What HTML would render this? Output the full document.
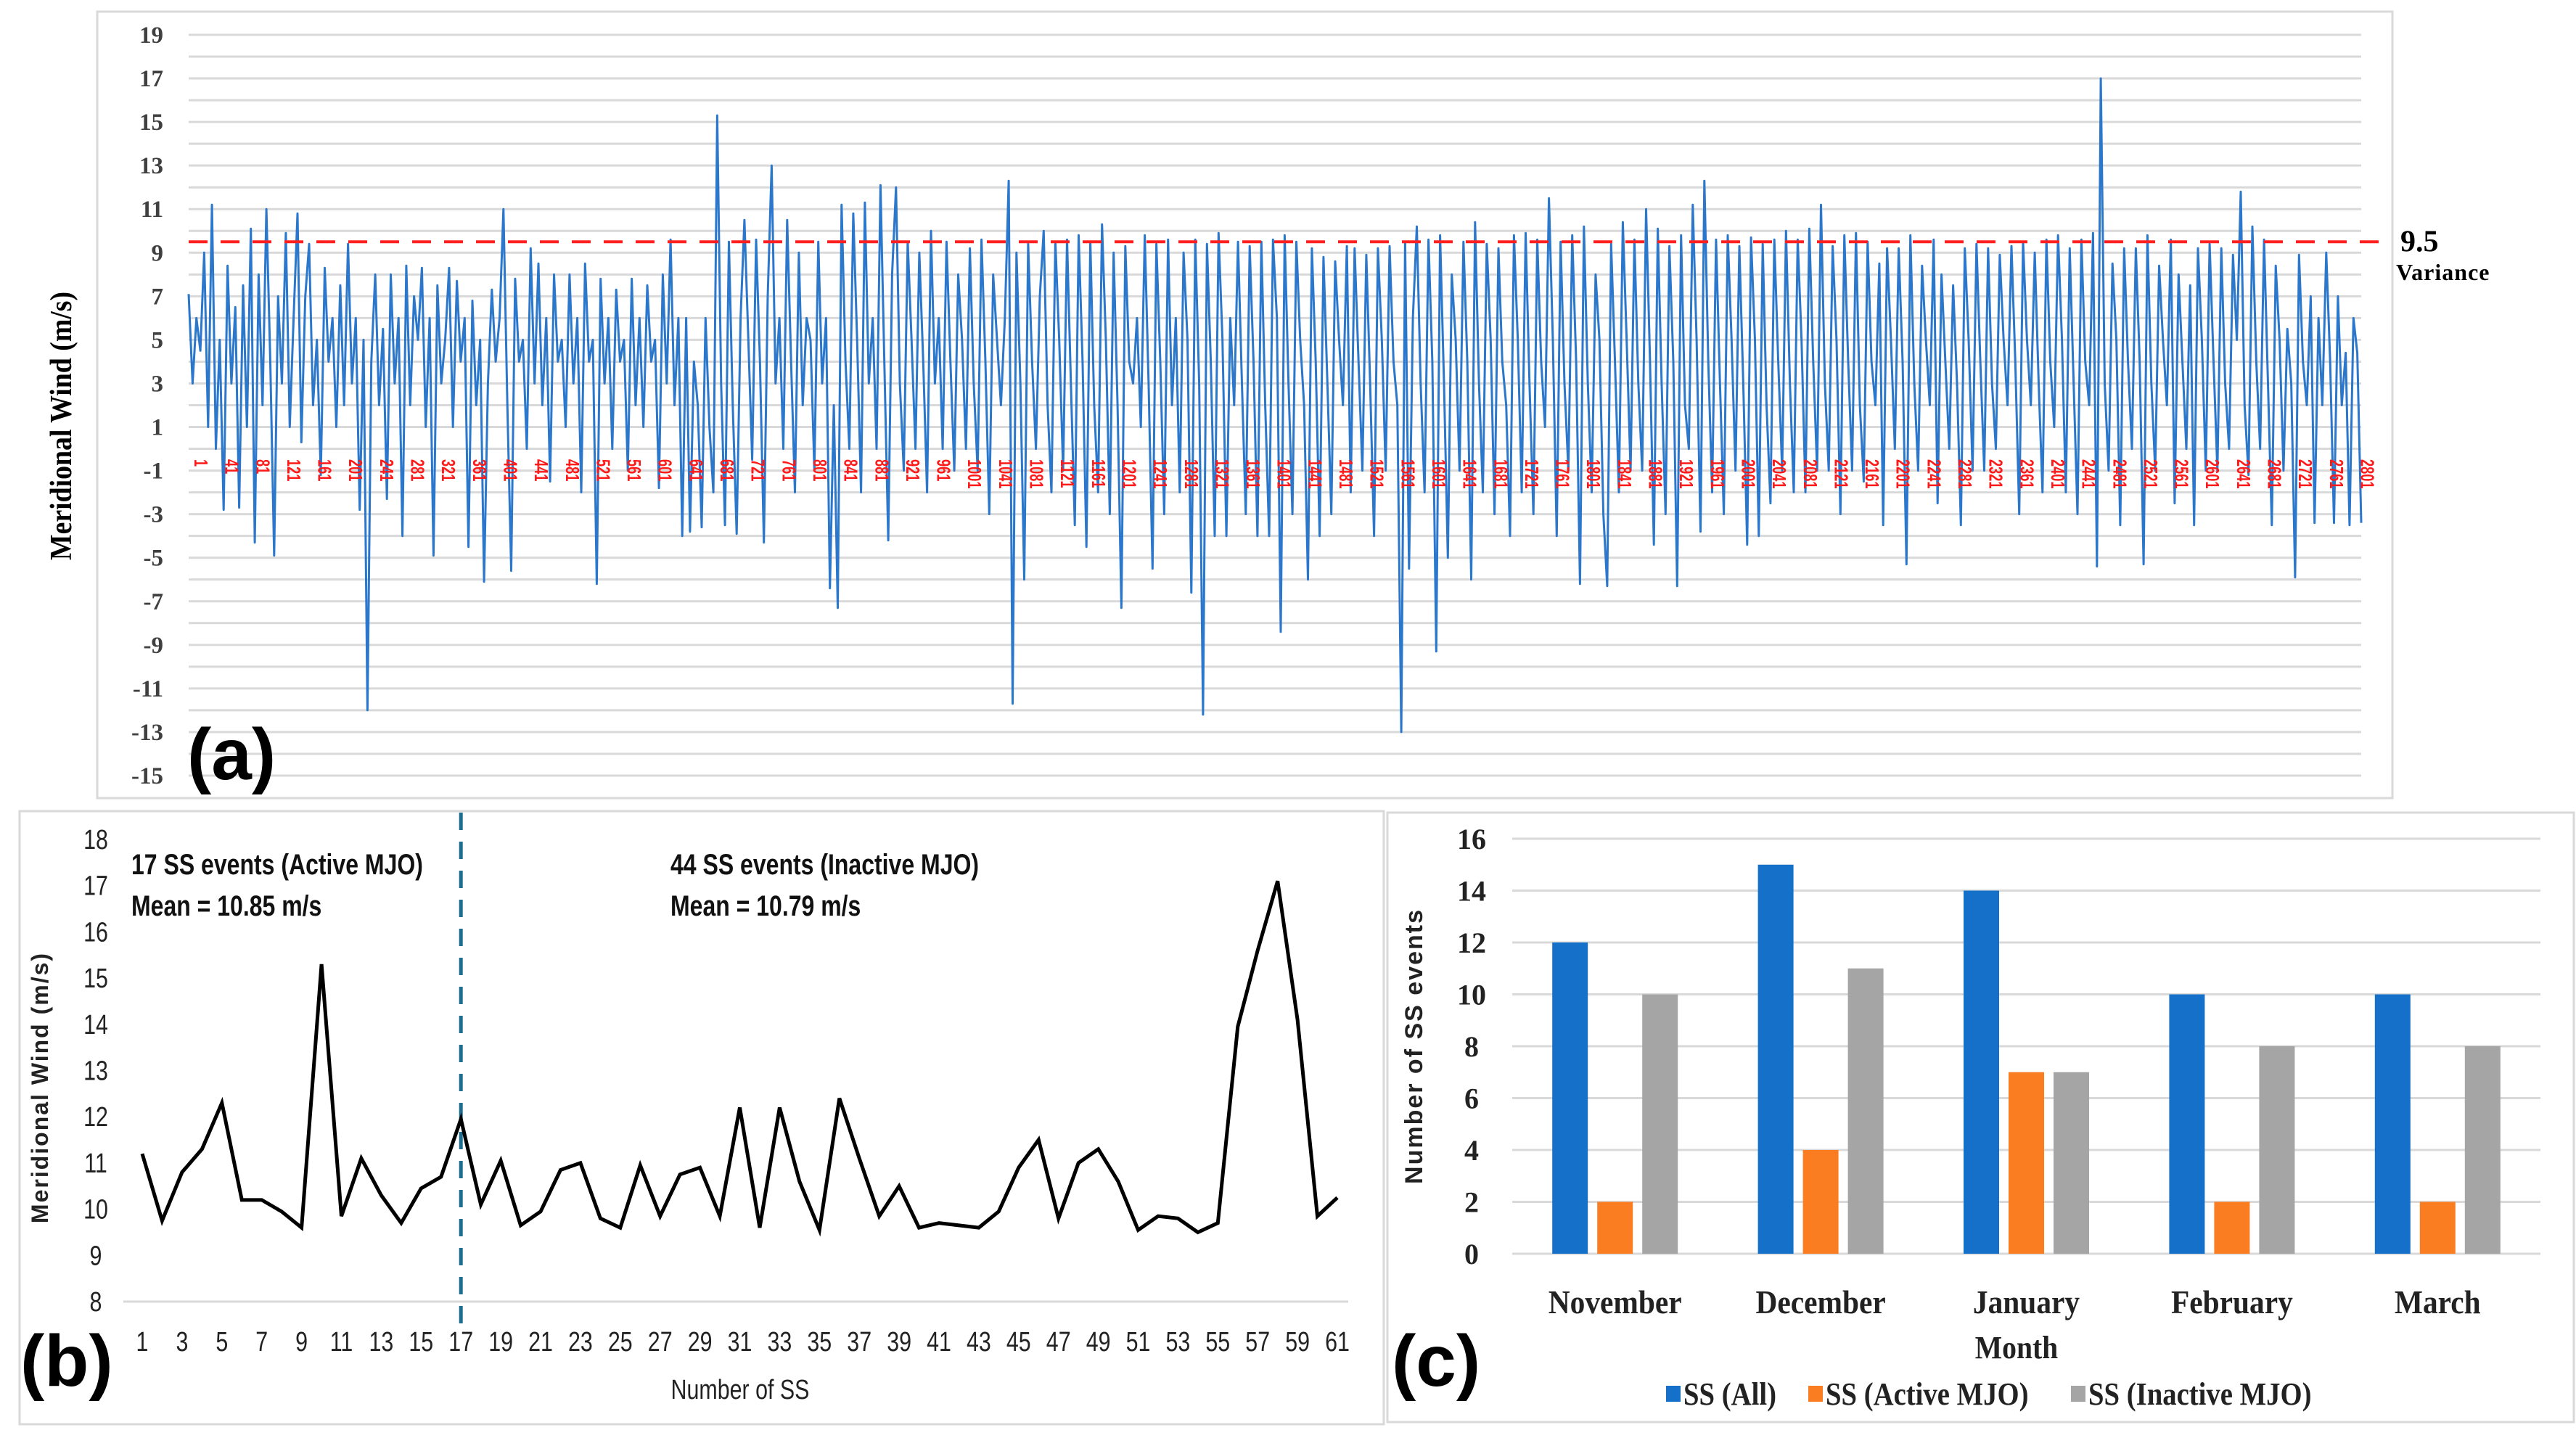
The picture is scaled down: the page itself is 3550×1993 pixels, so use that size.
<!DOCTYPE html>
<html><head><meta charset="utf-8"><style>
html,body{margin:0;padding:0;background:#fff;}
svg{display:block;}
.ser{font-family:"Liberation Serif",serif;font-weight:bold;}
.nar{font-family:"Liberation Sans Narrow","Liberation Sans",sans-serif;}
.sans{font-family:"Liberation Sans",sans-serif;}
</style></head><body>
<svg id="fig" width="3550" height="1993" viewBox="0 0 3550 1993" xmlns="http://www.w3.org/2000/svg">
<rect x="0" y="0" width="3550" height="1993" fill="#fff"/>
<rect x="134" y="16" width="3163" height="1084" fill="none" stroke="#d9d9d9" stroke-width="3"/>
<rect x="27" y="1118" width="1880" height="845" fill="none" stroke="#d9d9d9" stroke-width="3"/>
<rect x="1912" y="1120" width="1635" height="840" fill="none" stroke="#d9d9d9" stroke-width="3"/>
<g id="pa"></g>
<g id="pb"></g>
<g id="pc"></g>
</svg>
<script>
// ---------- Panel (a) data ----------
const aSeries = [
7.1,3,6,4.5,9,1,11.2,0,5,-2.8,
8.4,3,6.5,-2.7,7.5,1,10.1,-4.3,8,2,
11,4,-4.9,7,3,9.9,1,6,10.8,0.3,
7,9.4,2,5,-1.2,8.3,4,6,1,7.5,
2,9.4,3,6,-2.8,5,-12,4,8,2,
5.5,-2.3,8,3,6,-4,8.4,2,7,5,
8.3,1,6,-4.9,7.5,3,5,8.3,1,7.7,
4,6,-4.5,6.8,2,5,-6.1,3,7.3,4,
6,11,2,-5.6,7.8,4,5,0,9.2,3,
8.5,2,6,-1.5,8,4,5,1,8,3,
6,-2,8.5,4,5,-6.2,7.8,3,6,0,
7.3,4,5,-1,7.8,2,6,1,7.5,4,
5,-1.8,8,3,9.6,2,6,-4,6,-3.8,
4,2,-3.6,6,1,-2,15.3,3,-3.5,9.5,
2,-3.9,6,10.5,5,-0.5,9.6,4,-4.3,7,
13,3,6,0,10.5,4,-2,9,2,6,
5,-1,9.5,3,6,-6.4,2,-7.3,11.2,4,
0,10.8,5,-2,11.3,3,6,0,12.1,4,
-4.2,8,12,3,-1,9.5,5,0,9,4,
-2,10,3,6,0,9.5,4,-1,8,5,
0,9.2,3,-1,9.6,4,-3,8,5,2,
6,12.3,-11.7,9,3,-6,9.4,4,0,7,
10,2,-2,9.5,5,-1,9.6,3,-3.5,9.8,
4,-4.5,9.5,2,-2,10.3,5,-3,9,2,
-7.3,9.3,4,3,6,1,9.8,3,-5.5,9.4,
4,-3,9.6,2,6,-2,9,5,-6.6,9.6,
3,-12.2,9.4,4,-4,9.9,5,-4,6,2,
9.5,3,-3,9.3,4,-4,9.5,2,-4,9.6,
6,-8.4,9.8,3,-3,9.5,5,2,-6,9.2,
4,-4,8.8,3,-3,8.6,5,2,9.3,-2,
9.2,4,-1,8.9,3,-4,9.2,5,-1,9.3,
4,2,-13,9.5,-5.5,6,10.2,3,-2,9.6,
4,-9.3,9.8,3,-5,8,5,-1,9.5,4,
-6,10.4,3,-2,9.4,5,-3,9.2,4,2,
-4,9.8,5,-2,9.9,3,-3,9.6,4,1,
11.5,5,-4,9.5,3,-1,9.8,4,-6.2,10.2,
3,-2,8,5,-3,-6.3,9.4,4,-2,10.4,
5,-1,9.6,3,-1,11,4,-4.4,10.1,3,
-3,9.3,4,-6.3,9.8,2,0,11.2,5,-3.8,
12.3,4,-2,9.6,3,-3,9.8,5,-1,9.3,
3,-4.4,9.7,5,-4,9.4,2,-2.5,9.6,4,
-1,10,3,-2,9.6,5,-2,10.1,4,-1,
11.2,3,-1,9.3,5,-3,9.8,4,-1,9.9,
2,-1.5,9.5,4,2,8.5,-3.5,9.2,5,0,
9.2,4,-5.3,9.8,3,-1,8.4,5,2,9.6,
-2.5,8,4,0,7.5,3,-3.5,9.2,5,-1,
9.4,4,-1,9.2,3,0,8.9,5,2,9.3,
4,-3,9.5,5,2,9,3,-2,9.6,4,
1,9.8,5,-2,9.2,3,-3,9.6,4,2,
9.9,-5.4,17,3,-1,8.5,5,-3.5,9.2,4,
0,9.2,4,-5.3,9.8,3,-1,8.4,5,2,
9.6,-2.5,8,4,0,7.5,-3.5,9.2,5,-1,
9.4,4,-1,9.2,3,0,8.9,5,11.8,2,
-1.2,10.2,4,0,9.6,3,-3.5,8.4,5,-1,
5.5,3,-5.9,8.9,4,2,7,-3.4,6,2,
9,4,-3.4,7,2,4.4,-3.5,6,4.4,-3.4];
const aTickLabels = [];
for (let v = 1; v <= 2801; v += 40) aTickLabels.push(v);
const aYTicks = [19,17,15,13,11,9,7,5,3,1,-1,-3,-5,-7,-9,-11,-13,-15];
const aVariance = [9.5];
const aLastIndex = [2808];

// ---------- Panel (b) data ----------
const bValues = [11.2,9.75,10.8,11.3,12.3,10.2,10.2,9.95,9.6,15.3,9.85,11.1,10.3,9.7,10.45,10.7,11.95,10.1,11.05,9.65,9.95,10.85,11.0,9.8,9.6,10.95,9.85,10.75,10.9,9.85,12.2,9.6,12.2,10.6,9.55,12.4,11.1,9.85,10.5,9.6,9.7,9.65,9.6,9.95,10.9,11.5,9.8,11.0,11.3,10.6,9.55,9.85,9.8,9.5,9.7,13.95,15.6,17.1,14.1,9.85,10.25];
const bYTicks = [8,9,10,11,12,13,14,15,16,17,18];
const bSplit = [17];

// ---------- Panel (c) data ----------
const cMonths = ["November","December","January","February","March"];
const cAll = [12,15,14,10,10];
const cActive = [2,4,7,2,2];
const cInactive = [10,11,7,8,8];
const cYTicks = [0,2,4,6,8,10,12,14,16];
const cSeriesNames = ["SS (All)","SS (Active MJO)","SS (Inactive MJO)"];

const NS = "http://www.w3.org/2000/svg";
function mk(parent, tag, attrs, text) {
  const e = document.createElementNS(NS, tag);
  for (const k in attrs) e.setAttribute(k, attrs[k]);
  if (text !== undefined) e.textContent = text;
  parent.appendChild(e);
  return e;
}
function tr(x, y, sx) { return 'translate(' + x + ',' + y + ') scale(' + sx + ',1)'; }

// ===== Panel (a) =====
(function(){
  const g = document.getElementById('pa');
  const x0 = 260, x1 = 3254, yTop = 48, yBot = 1069, vTop = 19, vBot = -15;
  const ys = v => yTop + (vTop - v) * (yBot - yTop) / (vTop - vBot);
  const xi = i => x0 + i * (x1 - x0) / (aSeries.length - 1);
  const xIdx = n => x0 + (n - 1) * (x1 - x0) / aLastIndex[0];
  for (let v = vBot; v <= vTop; v++) {
    const l = mk(g, 'line', {x1: x0, x2: x1, y1: ys(v), y2: ys(v), stroke: '#d9d9d9', 'stroke-width': 3});
    
    
  }
  aYTicks.forEach(v => {
    const t = mk(g, 'text', {x: 225, y: ys(v) + 11, 'text-anchor': 'end', 'font-size': 33, class: 'ser', fill: '#404040'}, String(v));
    
    
  });
  const yt = mk(g, 'text', {x: 0, y: 0, transform: 'translate(98,587) rotate(-90) scale(0.9,1)', 'text-anchor': 'middle', 'font-size': 42, class: 'ser', fill: '#000'}, 'Meridional Wind (m/s)');
  
  
  let d = '';
  aSeries.forEach((v, i) => { d += (i ? 'L' : 'M') + xi(i).toFixed(1) + ',' + ys(v).toFixed(1); });
  const p = mk(g, 'path', {d: d, fill: 'none', stroke: '#2a77cc', 'stroke-width': 3, 'stroke-linejoin': 'round'});
  
  
  aTickLabels.forEach(n => {
    const x = xIdx(n);
    const t = mk(g, 'text', {x: 0, y: 0, transform: 'translate(' + (x + 8) + ',633) rotate(90) scale(0.7,1)', 'font-size': 26, class: 'nar', 'font-weight': 'bold', fill: '#ff1a1a'}, String(n));
    
    
  });
  const vl = mk(g, 'line', {x1: x0, x2: 3290, y1: ys(aVariance[0]), y2: ys(aVariance[0]), stroke: '#ff2020', 'stroke-width': 4, 'stroke-dasharray': '26,18'});
  
  
  const vt = mk(g, 'text', {x: 3308, y: ys(aVariance[0]) + 13, 'font-size': 42, class: 'ser', fill: '#000'}, String(aVariance[0]));
  
  
  const vt2 = mk(g, 'text', {x: 3302, y: 386, 'font-size': 32, class: 'ser', fill: '#000', 'letter-spacing': 1}, 'Variance');
  
  
  const pl = mk(g, 'text', {x: 258, y: 1074, 'font-size': 100, class: 'sans', 'font-weight': 'bold', fill: '#000'}, '(a)');
  
  
})();

// ===== Panel (b) =====
(function(){
  const g = document.getElementById('pb');
  const x0 = 196, x1 = 1843, yTop = 1157, yBot = 1794, vTop = 18, vBot = 8;
  const ys = v => yBot - (v - vBot) * (yBot - yTop) / (vTop - vBot);
  const xs = n => x0 + (n - 1) * (x1 - x0) / (bValues.length - 1);
  const base = mk(g, 'line', {x1: 170, x2: 1858, y1: yBot, y2: yBot, stroke: '#d9d9d9', 'stroke-width': 3});
  
  
  bYTicks.forEach(v => {
    const t = mk(g, 'text', {x: 0, y: 0, transform: tr(132, ys(v) + 13, 0.8), 'text-anchor': 'middle', 'font-size': 38, class: 'nar', fill: '#222'}, String(v));
    
    
  });
  for (let n = 1; n <= bValues.length; n += 2) {
    const t = mk(g, 'text', {x: 0, y: 0, transform: tr(xs(n), 1862, 0.8), 'text-anchor': 'middle', 'font-size': 38, class: 'nar', fill: '#222'}, String(n));
    
    
  }
  const sl = mk(g, 'line', {x1: xs(bSplit[0]), x2: xs(bSplit[0]), y1: 1120, y2: 1830, stroke: '#1d6d8f', 'stroke-width': 5, 'stroke-dasharray': '24,16'});
  
  
  let d = '';
  bValues.forEach((v, i) => { d += (i ? 'L' : 'M') + xs(i + 1).toFixed(1) + ',' + ys(v).toFixed(1); });
  const p = mk(g, 'path', {d: d, fill: 'none', stroke: '#000', 'stroke-width': 5, 'stroke-linejoin': 'miter'});
  
  
  const ann = [[181,1205,'17 SS events (Active MJO)'],[181,1262,'Mean = 10.85 m/s'],[924,1205,'44 SS events (Inactive MJO)'],[924,1262,'Mean = 10.79 m/s']];
  ann.forEach(a => {
    const t = mk(g, 'text', {x: 0, y: 0, transform: tr(a[0], a[1], 0.8), 'font-size': 40, class: 'nar', fill: '#111', 'font-weight': '600'}, a[2]);
    
    
  });
  const yt = mk(g, 'text', {x: 0, y: 0, transform: 'translate(66,1499) rotate(-90)', 'text-anchor': 'middle', 'font-size': 32, class: 'sans', 'font-weight': 'bold', 'letter-spacing': 2, fill: '#222'}, 'Meridional Wind (m/s)');
  
  
  const xt = mk(g, 'text', {x: 0, y: 0, transform: tr(1020, 1928, 0.8), 'text-anchor': 'middle', 'font-size': 38, class: 'nar', fill: '#222'}, 'Number of SS');
  
  
  const pl = mk(g, 'text', {x: 28, y: 1910, 'font-size': 100, class: 'sans', 'font-weight': 'bold', fill: '#000'}, '(b)');
  
  
})();

// ===== Panel (c) =====
(function(){
  const g = document.getElementById('pc');
  const x0 = 2084, x1 = 3501, yTop = 1156, yBot = 1728, vTop = 16;
  const ys = v => yBot - v * (yBot - yTop) / vTop;
  const cw = (x1 - x0) / cMonths.length;
  const bw = 49, gap = 13;
  cYTicks.forEach(v => {
    const l = mk(g, 'line', {x1: x0, x2: x1, y1: ys(v), y2: ys(v), stroke: '#d9d9d9', 'stroke-width': 3});
    
    
    const t = mk(g, 'text', {x: 2028, y: ys(v) + 14, 'text-anchor': 'middle', 'font-size': 40, class: 'ser', 'font-weight': 'normal', fill: '#222'}, String(v));
    
    
  });
  const series = [cAll, cActive, cInactive];
  const colors = ['#1570c9', '#fa7d22', '#a5a5a5'];
  cMonths.forEach((m, i) => {
    const cx = x0 + cw * (i + 0.5);
    series.forEach((s, k) => {
      const bx = cx + (k - 1) * (bw + gap) - bw / 2;
      const r = mk(g, 'rect', {x: bx, y: ys(s[i]), width: bw, height: yBot - ys(s[i]), fill: colors[k]});
      
      
    });
    const t = mk(g, 'text', {x: 0, y: 0, transform: tr(cx, 1810, 0.9), 'text-anchor': 'middle', 'font-size': 46, class: 'ser', fill: '#222'}, m);
    
    
  });
  const yt = mk(g, 'text', {x: 0, y: 0, transform: 'translate(1960,1442) rotate(-90)', 'text-anchor': 'middle', 'font-size': 34, class: 'sans', 'font-weight': 'bold', 'letter-spacing': 2, fill: '#222'}, 'Number of SS events');
  
  
  const xt = mk(g, 'text', {x: 0, y: 0, transform: tr(2779, 1872, 0.9), 'text-anchor': 'middle', 'font-size': 44, class: 'ser', 'font-weight': 'normal', fill: '#222'}, 'Month');
  
  
  let lx = 2296;
  const legW = [196, 362, 380];
  cSeriesNames.forEach((nm, k) => {
    const sw = mk(g, 'rect', {x: lx, y: 1910, width: 20, height: 22, fill: colors[k]});
    
    
    const t = mk(g, 'text', {x: 0, y: 0, transform: tr(lx + 24, 1936, 0.88), 'font-size': 44, class: 'ser', fill: '#222'}, nm);
    
    
    lx += legW[k];
  });
  const pl = mk(g, 'text', {x: 1918, y: 1910, 'font-size': 100, class: 'sans', 'font-weight': 'bold', fill: '#000'}, '(c)');
  
  
})();
</script>
</body></html>
